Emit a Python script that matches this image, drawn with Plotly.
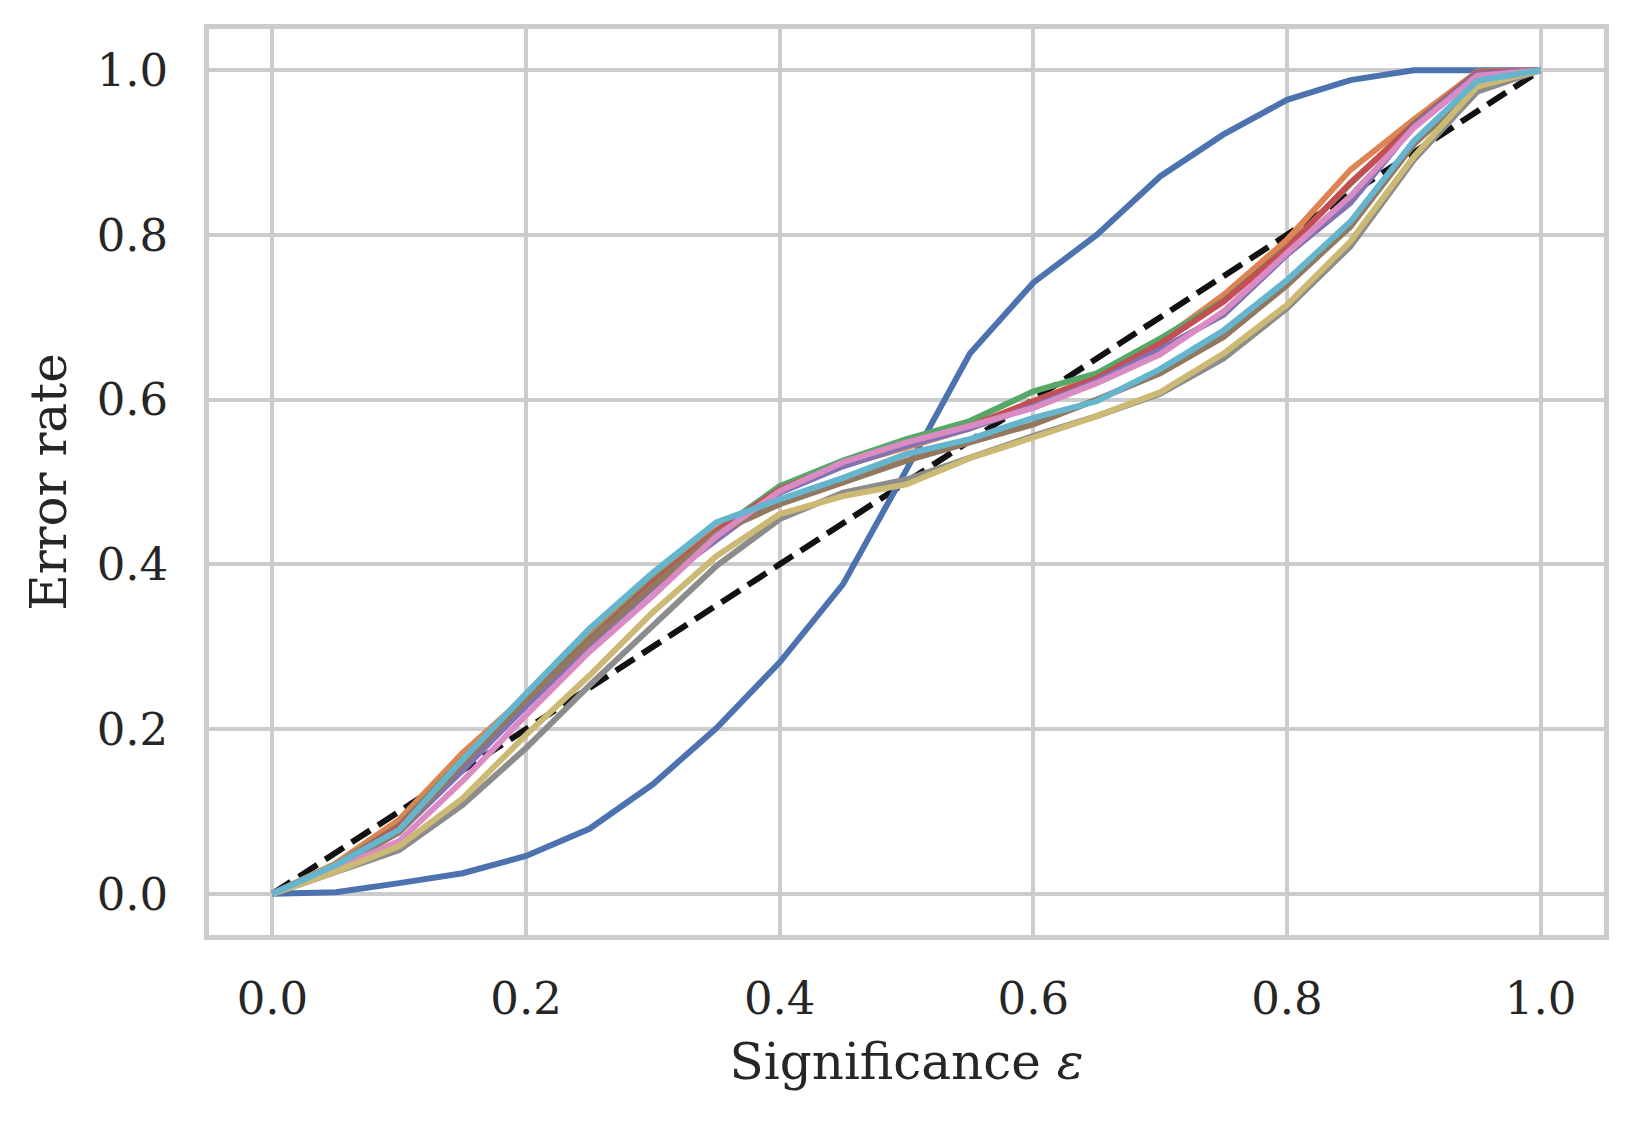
import plotly.graph_objects as go

significance = [0.0, 0.05, 0.1, 0.15, 0.2, 0.25, 0.3, 0.35, 0.4, 0.45, 0.5,
                0.55, 0.6, 0.65, 0.7, 0.75, 0.8, 0.85, 0.9, 0.95, 1.0]

s_blue = [0, 0.002, 0.013, 0.025, 0.046, 0.079, 0.133, 0.201, 0.281, 0.376, 0.515,
          0.656, 0.742, 0.80, 0.871, 0.922, 0.964, 0.988, 1.0, 1.0, 1.0]
s_orange = [0, 0.037, 0.09, 0.171, 0.24, 0.316, 0.386, 0.442, 0.49, 0.52, 0.542,
            0.565, 0.598, 0.628, 0.671, 0.727, 0.794, 0.879, 0.94, 0.998, 1.0]
s_green = [0, 0.035, 0.083, 0.163, 0.237, 0.31, 0.38, 0.44, 0.495, 0.526, 0.552,
           0.574, 0.61, 0.632, 0.674, 0.72, 0.785, 0.862, 0.935, 0.997, 1.0]
s_red = [0, 0.034, 0.082, 0.16, 0.235, 0.308, 0.378, 0.44, 0.491, 0.522, 0.546,
         0.568, 0.598, 0.626, 0.668, 0.719, 0.784, 0.863, 0.934, 0.997, 1.0]
s_purple = [0, 0.033, 0.075, 0.15, 0.228, 0.302, 0.372, 0.43, 0.487, 0.519, 0.544,
            0.565, 0.592, 0.622, 0.661, 0.703, 0.776, 0.839, 0.932, 0.995, 1.0]
s_brown = [0, 0.031, 0.075, 0.158, 0.235, 0.306, 0.374, 0.438, 0.473, 0.499, 0.526,
           0.548, 0.57, 0.6, 0.632, 0.676, 0.739, 0.81, 0.91, 0.98, 1.0]
s_pink = [0, 0.03, 0.064, 0.137, 0.217, 0.294, 0.362, 0.434, 0.489, 0.524, 0.548,
          0.568, 0.59, 0.62, 0.655, 0.707, 0.778, 0.847, 0.93, 0.993, 1.0]
s_gray = [0, 0.026, 0.053, 0.108, 0.177, 0.253, 0.326, 0.398, 0.455, 0.487, 0.503,
          0.53, 0.556, 0.58, 0.607, 0.65, 0.711, 0.786, 0.891, 0.974, 1.0]
s_olive = [0, 0.027, 0.058, 0.116, 0.193, 0.265, 0.342, 0.41, 0.461, 0.483, 0.497,
           0.529, 0.554, 0.58, 0.609, 0.656, 0.715, 0.792, 0.895, 0.98, 1.0]
s_cyan = [0, 0.035, 0.078, 0.163, 0.243, 0.322, 0.39, 0.451, 0.479, 0.505, 0.534,
          0.552, 0.578, 0.598, 0.637, 0.684, 0.745, 0.816, 0.914, 0.987, 1.0]

diag_x = [0.0, 1.0]
diag_y = [0.0, 1.0]

tick_vals = [0.0, 0.2, 0.4, 0.6, 0.8, 1.0]
tick_text = ["0.0", "0.2", "0.4", "0.6", "0.8", "1.0"]

series = [s_blue, s_orange, s_green, s_red, s_purple, s_brown, s_pink, s_gray, s_olive, s_cyan]
colors = ["#4C72B0", "#DD8452", "#55A868", "#C44E52", "#8172B3",
          "#937860", "#DA8BC3", "#8C8C8C", "#CCB974", "#64B5CD"]

fig = go.Figure()
fig.add_trace(go.Scatter(x=diag_x, y=diag_y, mode="lines",
                         line=dict(color="#111111", width=6, dash="22px,9.5px"),
                         showlegend=False, hoverinfo="skip"))
for s, c in zip(series, colors):
    fig.add_trace(go.Scatter(x=significance, y=s, mode="lines",
                             line=dict(color=c, width=6),
                             showlegend=False))

font_family = "DejaVu Serif"
text_color = "#262626"
axis_common = dict(
    showgrid=True, gridcolor="#cccccc", gridwidth=3.8,
    zeroline=False, showline=True, linecolor="#cccccc", linewidth=4.5,
    mirror=True, ticks="", tickfont=dict(family=font_family, size=45, color=text_color),
    tickvals=tick_vals, ticktext=tick_text,
)

# page body has an 8px margin, so shift the plot area up/left by 8px
fig.update_layout(
    width=1633, height=1121,
    margin=dict(l=201, r=37, t=21, b=194),
    paper_bgcolor="white", plot_bgcolor="white",
    font=dict(family=font_family, color=text_color),
    xaxis=dict(range=[-0.05, 1.05], ticklabelstandoff=20,
               title=dict(text="Significance <i>ε</i>",
                          font=dict(family=font_family, size=50, color=text_color),
                          standoff=22),
               **axis_common),
    yaxis=dict(range=[-0.05, 1.05], ticklabelstandoff=27,
               title=dict(text="Error rate",
                          font=dict(family=font_family, size=50, color=text_color),
                          standoff=16),
               **axis_common),
)

fig.write_html("out.html")
